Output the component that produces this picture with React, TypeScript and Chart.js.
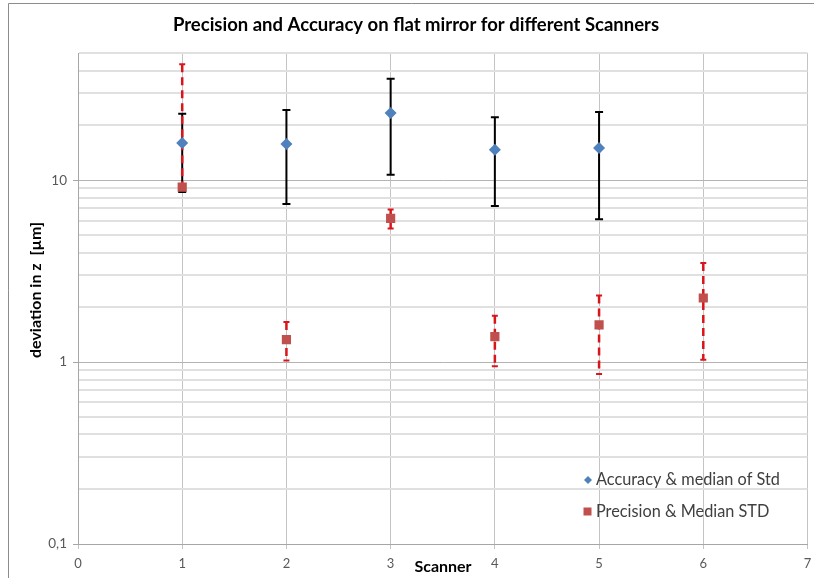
import React, { useEffect, useRef } from "react";
import { Chart, registerables } from "chart.js";

Chart.register(...registerables);

const scanners = [1, 2, 3, 4, 5];
const accuracy = [16.0, 15.8, 23.4, 14.7, 15.0];
const accuracyHigh = [23.2, 24.3, 36.1, 22.2, 23.7];
const accuracyLow = [8.6, 7.4, 10.7, 7.2, 6.1];

const precisionScanners = [1, 2, 3, 4, 5, 6];
const precision = [9.15, 1.33, 6.17, 1.38, 1.6, 2.25];
const precisionHigh = [43.4, 1.66, 6.9, 1.8, 2.32, 3.51];
const precisionLow = [8.9, 1.02, 5.43, 0.95, 0.86, 1.03];

const yTicks = [
  0.1, 0.2, 0.3, 0.4, 0.5, 0.6, 0.7, 0.8, 0.9,
  1, 2, 3, 4, 5, 6, 7, 8, 9,
  10, 20, 30, 40, 50,
];
const yMajorLabels: Record<string, string> = { "0.1": "0,1", "1": "1", "10": "10" };

const titleText = "Precision and Accuracy on flat mirror for different Scanners";
const xTitle = "Scanner";
const yTitle = "deviation in z  [µm]";
const legendLabels = ["Accuracy & median of Std", "Precision & Median STD"];

const FONT = "Lato, 'Open Sans', sans-serif";
const BLUE = "#4f81bd";
const RED = "#c0504d";
const ERR_RED = "#d9141b";

function isMajor(v: number) {
  return Math.abs(v - 0.1) < 1e-9 || v === 1 || v === 10;
}

export default function App() {
  const ref = useRef<HTMLCanvasElement | null>(null);

  useEffect(() => {
    const canvas = ref.current;
    if (!canvas) return;

    const decorPlugin = {
      id: "decor",
      beforeDatasetsDraw(chart: any) {
        const ctx = chart.ctx;
        const xs = chart.scales.x;
        const ys = chart.scales.y;
        ctx.save();
        ctx.strokeStyle = "#000000";
        ctx.lineWidth = 2;
        ctx.setLineDash([]);
        scanners.forEach((s, i) => {
          const px = xs.getPixelForValue(s);
          const top = ys.getPixelForValue(accuracyHigh[i]);
          const bot = ys.getPixelForValue(accuracyLow[i]);
          ctx.beginPath();
          ctx.moveTo(px, top);
          ctx.lineTo(px, bot);
          ctx.moveTo(px - 4, top);
          ctx.lineTo(px + 4, top);
          ctx.moveTo(px - 4, bot);
          ctx.lineTo(px + 4, bot);
          ctx.stroke();
        });
        ctx.strokeStyle = ERR_RED;
        precisionScanners.forEach((s, i) => {
          const px = xs.getPixelForValue(s);
          const top = ys.getPixelForValue(precisionHigh[i]);
          const bot = ys.getPixelForValue(precisionLow[i]);
          ctx.lineWidth = 2.5;
          ctx.setLineDash([8, 5]);
          ctx.beginPath();
          ctx.moveTo(px, top);
          ctx.lineTo(px, bot);
          ctx.stroke();
          ctx.setLineDash([]);
          ctx.lineWidth = 2;
          ctx.beginPath();
          ctx.moveTo(px - 3, top);
          ctx.lineTo(px + 3, top);
          ctx.moveTo(px - 3, bot);
          ctx.lineTo(px + 3, bot);
          ctx.stroke();
        });
        ctx.restore();
      },
      afterDraw(chart: any) {
        const ctx = chart.ctx;
        ctx.save();
        ctx.strokeStyle = "#8c8c8c";
        ctx.lineWidth = 1;
        ctx.beginPath();
        ctx.moveTo(8.5, 578);
        ctx.lineTo(8.5, 3.5);
        ctx.lineTo(814, 3.5);
        ctx.stroke();
        ctx.fillStyle = "#000000";
        ctx.font = `bold 18.5px ${FONT}`;
        ctx.textAlign = "center";
        ctx.textBaseline = "middle";
        ctx.fillText(titleText, 416, 25);
        ctx.font = `bold 16px ${FONT}`;
        ctx.fillText(xTitle, 443, 567);
        ctx.save();
        ctx.translate(36, 290);
        ctx.rotate(-Math.PI / 2);
        ctx.fillText(yTitle, 0, 0);
        ctx.restore();
        ctx.textAlign = "left";
        ctx.font = `16.3px ${FONT}`;
        ctx.fillStyle = "#404040";
        ctx.fillText(legendLabels[0], 596, 480);
        ctx.fillText(legendLabels[1], 596, 512);
        ctx.fillStyle = BLUE;
        ctx.beginPath();
        ctx.moveTo(588, 476);
        ctx.lineTo(592, 480);
        ctx.lineTo(588, 484);
        ctx.lineTo(584, 480);
        ctx.closePath();
        ctx.fill();
        ctx.fillStyle = RED;
        ctx.fillRect(583.5, 507.5, 8, 8);
        ctx.restore();
      },
    };

    const chart = new Chart(canvas, {
      type: "scatter",
      data: {
        datasets: [
          {
            label: legendLabels[0],
            data: scanners.map((s, i) => ({ x: s, y: accuracy[i] })),
            pointStyle: "rectRot",
            pointRadius: 6,
            backgroundColor: BLUE,
            borderColor: BLUE,
            borderWidth: 0,
          },
          {
            label: legendLabels[1],
            data: precisionScanners.map((s, i) => ({ x: s, y: precision[i] })),
            pointStyle: "rect",
            pointRadius: 6.5,
            backgroundColor: RED,
            borderColor: RED,
            borderWidth: 0,
          },
        ],
      },
      plugins: [decorPlugin],
      options: {
        responsive: false,
        animation: false,
        layout: { padding: { top: 53, left: 0, right: 6, bottom: 0 } },
        plugins: {
          legend: { display: false },
          title: { display: false },
          tooltip: { enabled: false },
        },
        scales: {
          x: {
            type: "linear",
            min: 0,
            max: 7,
            afterFit: (s: any) => {
              s.height = 34;
              s.paddingRight = 6;
              s.paddingLeft = 0;
            },
            ticks: {
              stepSize: 1,
              color: "#595959",
              font: { family: FONT, size: 13 },
              padding: 7,
            },
            grid: {
              color: "#c4c4c4",
              tickColor: "#c4c4c4",
              tickLength: 5,
              lineWidth: 1,
            },
            border: { color: "#a6a6a6" },
          },
          y: {
            type: "logarithmic",
            min: 0.1,
            max: 50,
            afterFit: (s: any) => {
              s.width = 78;
            },
            afterBuildTicks: (s: any) => {
              s.ticks = yTicks.map((v) => ({ value: v, major: isMajor(v) }));
            },
            ticks: {
              autoSkip: false,
              color: "#595959",
              font: { family: FONT, size: 13.5 },
              padding: 6,
              callback: (v: any) => {
                const key = String(Math.round(Number(v) * 1000) / 1000);
                return yMajorLabels[key] ?? "";
              },
            },
            grid: {
              color: (c: any) => (c.tick && isMajor(c.tick.value) ? "#b4b4b4" : "#e0e0e0"),
              lineWidth: (c: any) => (c.tick && isMajor(c.tick.value) ? 1 : 2),
              tickColor: (c: any) => (c.tick && isMajor(c.tick.value) ? "#a6a6a6" : "rgba(0,0,0,0)"),
              tickLength: 5,
            },
            border: { color: "#a6a6a6" },
          },
        },
      },
    });

    return () => chart.destroy();
  }, []);

  return (
    <div style={{ position: "absolute", left: 0, top: 0, width: 814, height: 578, background: "#fff" }}>
      <canvas ref={ref} width={814} height={578} style={{ display: "block" }} />
    </div>
  );
}
